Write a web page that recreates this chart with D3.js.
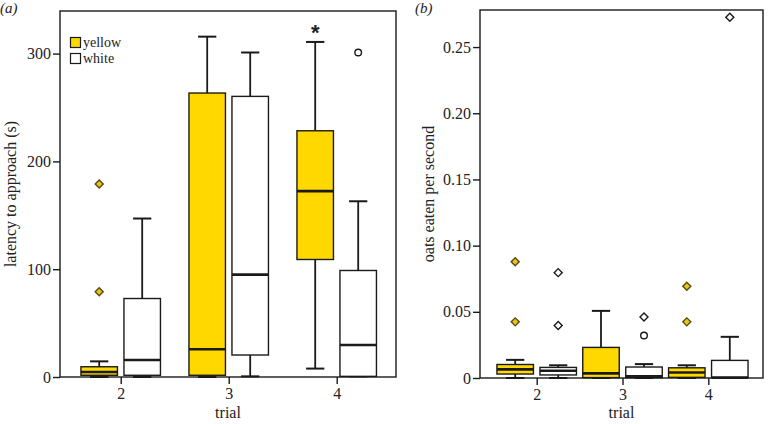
<!DOCTYPE html>
<html>
<head>
<meta charset="utf-8">
<script src="https://cdn.jsdelivr.net/npm/d3@7"></script>
<style>
  html, body { margin: 0; padding: 0; background: #fff; }
  svg { display: block; }
  text { font-family: "Liberation Serif", "Times New Roman", serif; fill: #222; }
</style>
</head>
<body>
<svg id="chart" width="771" height="424"></svg>
<script>
// ---------- data ----------
const trials = ["2", "3", "4"];
const groups = ["yellow", "white"];

// box stats: [lowWhisker, q1, median, q3, highWhisker], one per trial
const latencyYellow = [[0, 1.6, 4.6, 9.5, 14.5], [0, 1.6, 25.7, 263.4, 315.7], [7.8, 109, 172.4, 228.4, 310.8]];
const latencyWhite  = [[0, 1.6, 15.8, 72.8, 147], [0.6, 20.4, 95, 260.3, 301], [0.6, 0.6, 29.7, 98.8, 163]];
const latencyOutliers = [
  { trial: "2", group: "yellow", value: 179, shape: "diamond" },
  { trial: "2", group: "yellow", value: 79, shape: "diamond" },
  { trial: "4", group: "white", value: 301, shape: "circle" }
];
const latencyTicks = [0, 100, 200, 300];
const latencyStars = [{ trial: "4", group: "yellow", label: "*" }];

const oatsYellow = [[0, 0.003, 0.0065, 0.0102, 0.0137], [0, 0.0003, 0.0035, 0.0231, 0.0507], [0, 0.0005, 0.0042, 0.0077, 0.0096]];
const oatsWhite  = [[0, 0.0023, 0.0055, 0.008, 0.0096], [0, 0.0003, 0.0012, 0.0083, 0.0105], [0, 0.0003, 0.0003, 0.0133, 0.0311]];
const oatsOutliers = [
  { trial: "2", group: "yellow", value: 0.0879, shape: "diamond" },
  { trial: "2", group: "yellow", value: 0.0424, shape: "diamond" },
  { trial: "2", group: "white", value: 0.0796, shape: "diamond" },
  { trial: "2", group: "white", value: 0.0397, shape: "diamond" },
  { trial: "3", group: "white", value: 0.046, shape: "diamond" },
  { trial: "3", group: "white", value: 0.0321, shape: "circle" },
  { trial: "4", group: "yellow", value: 0.0693, shape: "diamond" },
  { trial: "4", group: "yellow", value: 0.0424, shape: "diamond" },
  { trial: "4", group: "white", value: 0.2726, shape: "diamond" }
];
const oatsTicks = [0, 0.05, 0.10, 0.15, 0.20, 0.25];

// ---------- style ----------
const fills = { yellow: "#FFD800", white: "#FFFFFF" };
const outlierFills = { yellow: "#E8C51A", white: "#FFFFFF" };
const ink = "#1a1a1a";

const svg = d3.select("#chart");

function panel(cfg) {
  const { left, right, top, bottom, yMax, stats, outliers, ticks, fmt, yTitle, tag, tagX, titleX, firstX, lastX, offset, boxW, stars } = cfg;
  const g = svg.append("g");
  const x = d3.scalePoint().domain(trials).range([firstX, lastX]);
  const y = d3.scaleLinear().domain([0, yMax]).range([bottom, top]);
  const gx = (t, grp) => x(t) + (grp === "yellow" ? -offset : offset);

  // frame
  g.append("rect").attr("x", left).attr("y", top).attr("width", right - left).attr("height", bottom - top)
    .attr("fill", "none").attr("stroke", ink).attr("stroke-width", 1.4);

  // axes
  const ya = g.append("g").attr("transform", `translate(${left},0)`)
    .call(d3.axisLeft(y).tickValues(ticks).tickFormat(fmt).tickSize(7).tickSizeOuter(0));
  ya.select(".domain").remove();
  ya.selectAll("line").attr("stroke", ink).attr("stroke-width", 1.4);
  ya.selectAll("text").style("font-size", "16px").style("font-family", "Liberation Serif").attr("x", -9).attr("fill", "#333");

  const xa = g.append("g").attr("transform", `translate(0,${bottom})`)
    .call(d3.axisBottom(x).tickSize(7).tickSizeOuter(0));
  xa.select(".domain").remove();
  xa.selectAll("line").attr("stroke", ink).attr("stroke-width", 1.4);
  xa.selectAll("text").style("font-size", "16px").style("font-family", "Liberation Serif").attr("y", 11).attr("fill", "#333");

  // boxes
  const rows = [];
  groups.forEach(grp => trials.forEach((t, i) => {
    const s = stats[grp][i];
    rows.push({ grp, t, lo: s[0], q1: s[1], med: s[2], q3: s[3], hi: s[4] });
  }));
  const bg = g.append("g");
  rows.forEach(r => {
    const cx = gx(r.t, r.grp);
    const capW = boxW * 0.5;
    bg.append("line").attr("x1", cx).attr("x2", cx).attr("y1", y(r.q3)).attr("y2", y(r.hi)).attr("stroke", ink).attr("stroke-width", 1.8);
    bg.append("line").attr("x1", cx).attr("x2", cx).attr("y1", y(r.q1)).attr("y2", y(r.lo)).attr("stroke", ink).attr("stroke-width", 1.8);
    bg.append("line").attr("x1", cx - capW / 2).attr("x2", cx + capW / 2).attr("y1", y(r.hi)).attr("y2", y(r.hi)).attr("stroke", ink).attr("stroke-width", 2);
    bg.append("line").attr("x1", cx - capW / 2).attr("x2", cx + capW / 2).attr("y1", y(r.lo)).attr("y2", y(r.lo)).attr("stroke", ink).attr("stroke-width", 2);
    bg.append("rect").attr("x", cx - boxW / 2).attr("y", y(r.q3)).attr("width", boxW)
      .attr("height", Math.max(0, y(r.q1) - y(r.q3)))
      .attr("fill", fills[r.grp]).attr("stroke", ink).attr("stroke-width", 1.4);
    bg.append("line").attr("x1", cx - boxW / 2).attr("x2", cx + boxW / 2).attr("y1", y(r.med)).attr("y2", y(r.med))
      .attr("stroke", ink).attr("stroke-width", 2.6);
  });

  // outliers
  const diamond = d3.symbol().type(d3.symbolSquare).size(32);
  outliers.forEach(o => {
    const cx = gx(o.trial, o.group), cy = y(o.value);
    if (o.shape === "circle") {
      g.append("circle").attr("cx", cx).attr("cy", cy).attr("r", 3.3)
        .attr("fill", "#fff").attr("stroke", ink).attr("stroke-width", 1.4);
    } else {
      g.append("path").attr("d", diamond()).attr("transform", `translate(${cx},${cy}) rotate(45)`)
        .attr("fill", outlierFills[o.group]).attr("stroke", o.group === "yellow" ? "#5a4a10" : ink).attr("stroke-width", 1.4);
    }
  });

  // significance markers
  (stars || []).forEach(s => {
    const idx = trials.indexOf(s.trial);
    const hi = stats[s.group][idx][4];
    g.append("text").attr("x", gx(s.trial, s.group)).attr("y", y(hi) - 2)
      .attr("text-anchor", "middle").style("font-family", "Liberation Sans").style("font-weight", "bold")
      .style("font-size", "22px").attr("fill", "#111").text(s.label);
  });

  // titles
  g.append("text").attr("x", (left + right) / 2).attr("y", 418).attr("text-anchor", "middle")
    .style("font-size", "16px").attr("fill", "#333").text("trial");
  g.append("text").attr("transform", `translate(${titleX},${(top + bottom) / 2}) rotate(-90)`)
    .attr("text-anchor", "middle").style("font-size", "16px").attr("fill", "#333").text(yTitle);
  g.append("text").attr("x", tagX).attr("y", 13).style("font-size", "15px").style("font-style", "italic")
    .attr("fill", "#333").text(tag);
  return { g, x, y };
}

const pa = panel({
  left: 60, right: 396, top: 11, bottom: 377, yMax: 339.5,
  stats: { yellow: latencyYellow, white: latencyWhite }, outliers: latencyOutliers,
  ticks: latencyTicks, fmt: d3.format("d"), yTitle: "latency to approach (s)", tag: "(a)", tagX: 0,
  titleX: 16, firstX: 120.7, lastX: 336.7, offset: 21.5, boxW: 36.5, stars: latencyStars
});

const pb = panel({
  left: 480, right: 763, top: 10, bottom: 378, yMax: 0.278,
  stats: { yellow: oatsYellow, white: oatsWhite }, outliers: oatsOutliers,
  ticks: oatsTicks, fmt: v => v === 0 ? "0" : d3.format(".2f")(v), yTitle: "oats eaten per second", tag: "(b)", tagX: 415,
  titleX: 434, firstX: 536.7, lastX: 708.3, offset: 21.5, boxW: 36.5
});

// legend (panel a)
const legend = [
  { grp: "yellow", label: "yellow", y: 37.5 },
  { grp: "white", label: "white", y: 53.5 }
];
legend.forEach(l => {
  pa.g.append("rect").attr("x", 70.5).attr("y", l.y).attr("width", 10).attr("height", 10)
    .attr("fill", fills[l.grp]).attr("stroke", ink).attr("stroke-width", 1.2);
  pa.g.append("text").attr("x", 83).attr("y", l.y + 9.5).style("font-size", "14px").attr("fill", "#333").text(l.label);
});
</script>
</body>
</html>
